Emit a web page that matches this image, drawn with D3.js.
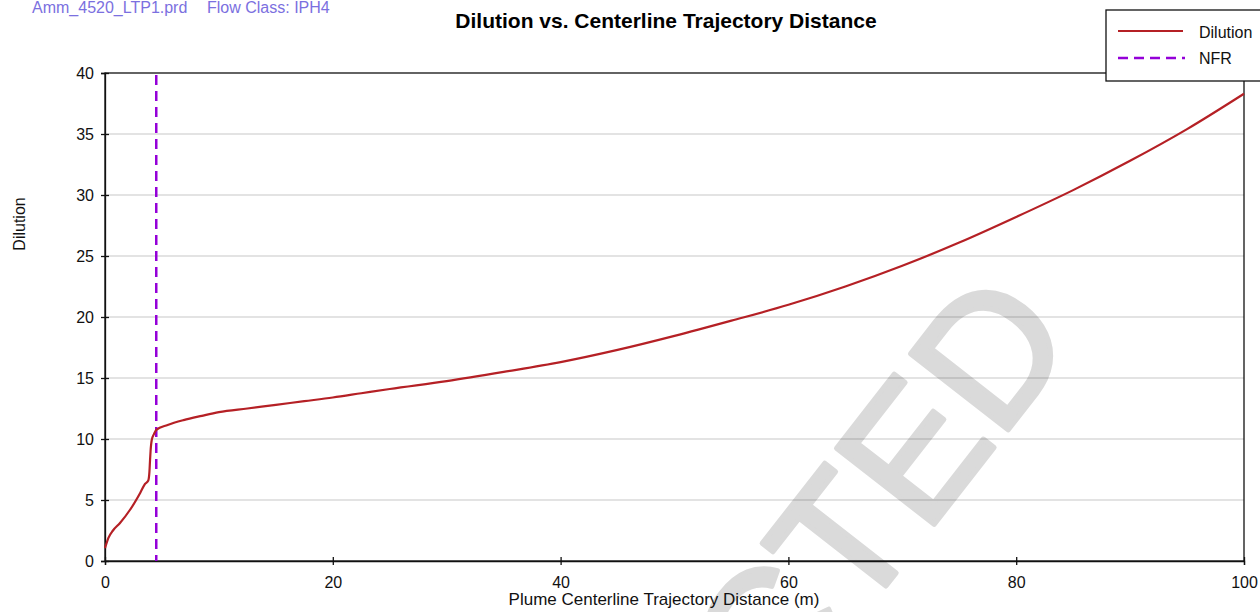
<!DOCTYPE html>
<html>
<head>
<meta charset="utf-8">
<script src="https://cdn.jsdelivr.net/npm/d3@7"></script>
<style>
  html, body { margin: 0; padding: 0; background: #fff; }
  svg { display: block; font-family: "Liberation Sans", Arial, sans-serif; }
</style>
</head>
<body>
<svg id="chart" width="1260" height="612"></svg>
<script>
// Plume centerline trajectory distance (m)
const distance = [0, 0.3, 0.7, 1.3, 2.2, 3.1, 3.5, 3.8, 3.9, 3.95, 4.0, 4.1, 4.3, 4.5, 5.5, 6.9, 8.5,
  10, 12.5, 15, 17.5, 20, 22.5, 25, 30, 35, 40, 45, 50, 55, 60, 65, 70, 75, 80, 85, 90, 95, 100];
// Dilution along the trajectory
const dilution = [1.05, 1.9, 2.5, 3.1, 4.2, 5.6, 6.3, 6.6, 7.3, 8.2, 9.0, 9.9, 10.4, 10.75, 11.15, 11.55, 11.9,
  12.2, 12.5, 12.8, 13.1, 13.4, 13.75, 14.1, 14.75, 15.5, 16.3, 17.3, 18.45, 19.7, 21.0, 22.5, 24.2, 26.1,
  28.2, 30.4, 32.8, 35.4, 38.3];
// Near-field region boundary
const nfrDistance = 4.5;

const xTicks = [0, 20, 40, 60, 80, 100];
const yTicks = [0, 5, 10, 15, 20, 25, 30, 35, 40];

const headerFile = "Amm_4520_LTP1.prd";
const headerClass = "Flow Class: IPH4";
const titleText = "Dilution vs. Centerline Trajectory Distance";
const xTitle = "Plume Centerline Trajectory Distance (m)";
const yTitle = "Dilution";
const legendNames = ["Dilution", "NFR"];
const stampText = "RESTRICTED";

const svg = d3.select("#chart");
const W = 1260, H = 612;
const plot = { left: 105, right: 1244, top: 73, bottom: 561 };

const x = d3.scaleLinear().domain([0, 100]).range([plot.left, plot.right]);
const y = d3.scaleLinear().domain([0, 40]).range([plot.bottom, plot.top]);

svg.append("rect").attr("width", W).attr("height", H).attr("fill", "#fff");

// Stamp behind the grid
svg.append("text")
  .attr("transform", "translate(1079,339) rotate(-52)")
  .attr("text-anchor", "end")
  .attr("font-size", 180)
  .attr("fill", "#dadada")
  .attr("stroke", "#dadada")
  .attr("stroke-width", 5)
  .attr("stroke-linejoin", "round")
  .text(stampText);

// Horizontal grid
svg.append("g")
  .selectAll("line")
  .data(yTicks.filter(d => d > 0 && d < 40))
  .join("line")
  .attr("x1", plot.left).attr("x2", plot.right)
  .attr("y1", d => y(d)).attr("y2", d => y(d))
  .attr("stroke", "#000").attr("stroke-opacity", 0.15).attr("stroke-width", 1.5);

// Header
svg.append("text").attr("x", 32).attr("y", 13).attr("font-size", 16)
  .attr("fill", "#7b70e0").text(headerFile);
svg.append("text").attr("x", 207).attr("y", 13).attr("font-size", 16)
  .attr("fill", "#7b70e0").text(headerClass);

// Title
svg.append("text").attr("x", 666).attr("y", 28).attr("text-anchor", "middle")
  .attr("font-size", 21).attr("font-weight", "bold").attr("fill", "#000").text(titleText);

// Plot frame
svg.append("rect")
  .attr("x", plot.left).attr("y", plot.top)
  .attr("width", plot.right - plot.left).attr("height", plot.bottom - plot.top)
  .attr("fill", "none").attr("stroke", "#111").attr("stroke-width", 1.3);

// Axes
const xAxis = svg.append("g").attr("transform", `translate(0,${plot.bottom})`)
  .call(d3.axisBottom(x).tickValues(xTicks).tickSize(4).tickPadding(12));
const yAxis = svg.append("g").attr("transform", `translate(${plot.left},0)`)
  .call(d3.axisLeft(y).tickValues(yTicks).tickSize(4).tickPadding(7));

[xAxis, yAxis].forEach(g => {
  g.select(".domain").attr("stroke", "#111").attr("stroke-width", 1.3);
  g.selectAll(".tick text").attr("font-size", 16).attr("fill", "#111")
    .attr("font-family", "Liberation Sans, Arial, sans-serif");
  g.selectAll(".tick line").attr("stroke", "#111").attr("stroke-width", 1.3);
});
// Ticks straddle the axis line
xAxis.selectAll(".tick line").attr("y1", -4).attr("y2", 4);
yAxis.selectAll(".tick line").attr("x1", -4).attr("x2", 4);
yAxis.selectAll(".tick text").attr("dy", "0.36em");

// Axis titles
svg.append("text").attr("x", 664).attr("y", 605).attr("text-anchor", "middle")
  .attr("font-size", 17).attr("fill", "#111").text(xTitle);
svg.append("text").attr("transform", "translate(25,224) rotate(-90)")
  .attr("text-anchor", "middle").attr("font-size", 16).attr("fill", "#111").text(yTitle);

// NFR marker
svg.append("line")
  .attr("x1", x(nfrDistance)).attr("x2", x(nfrDistance))
  .attr("y1", plot.top + 2).attr("y2", plot.bottom)
  .attr("stroke", "#9400d8").attr("stroke-width", 2.5).attr("stroke-dasharray", "10,6");

// Dilution curve
const line = d3.line().x(d => x(d[0])).y(d => y(d[1])).curve(d3.curveMonotoneX);
svg.append("path")
  .datum(distance.map((d, i) => [d, dilution[i]]))
  .attr("d", line)
  .attr("fill", "none").attr("stroke", "#b52025").attr("stroke-width", 2.2);

// Legend
const lg = svg.append("g");
lg.append("rect").attr("x", 1106).attr("y", 10).attr("width", 170).attr("height", 71)
  .attr("fill", "#fff").attr("stroke", "#111").attr("stroke-width", 1.3);
lg.append("line").attr("x1", 1118).attr("x2", 1183).attr("y1", 31).attr("y2", 31)
  .attr("stroke", "#b52025").attr("stroke-width", 2.2);
lg.append("line").attr("x1", 1118).attr("x2", 1185).attr("y1", 58).attr("y2", 58)
  .attr("stroke", "#9400d8").attr("stroke-width", 2.5).attr("stroke-dasharray", "10,6");
lg.selectAll("text.lab").data(legendNames).join("text").attr("class", "lab")
  .attr("x", 1199).attr("y", (d, i) => 38 + i * 26)
  .attr("font-size", 16).attr("fill", "#111").text(d => d);
</script>
</body>
</html>
